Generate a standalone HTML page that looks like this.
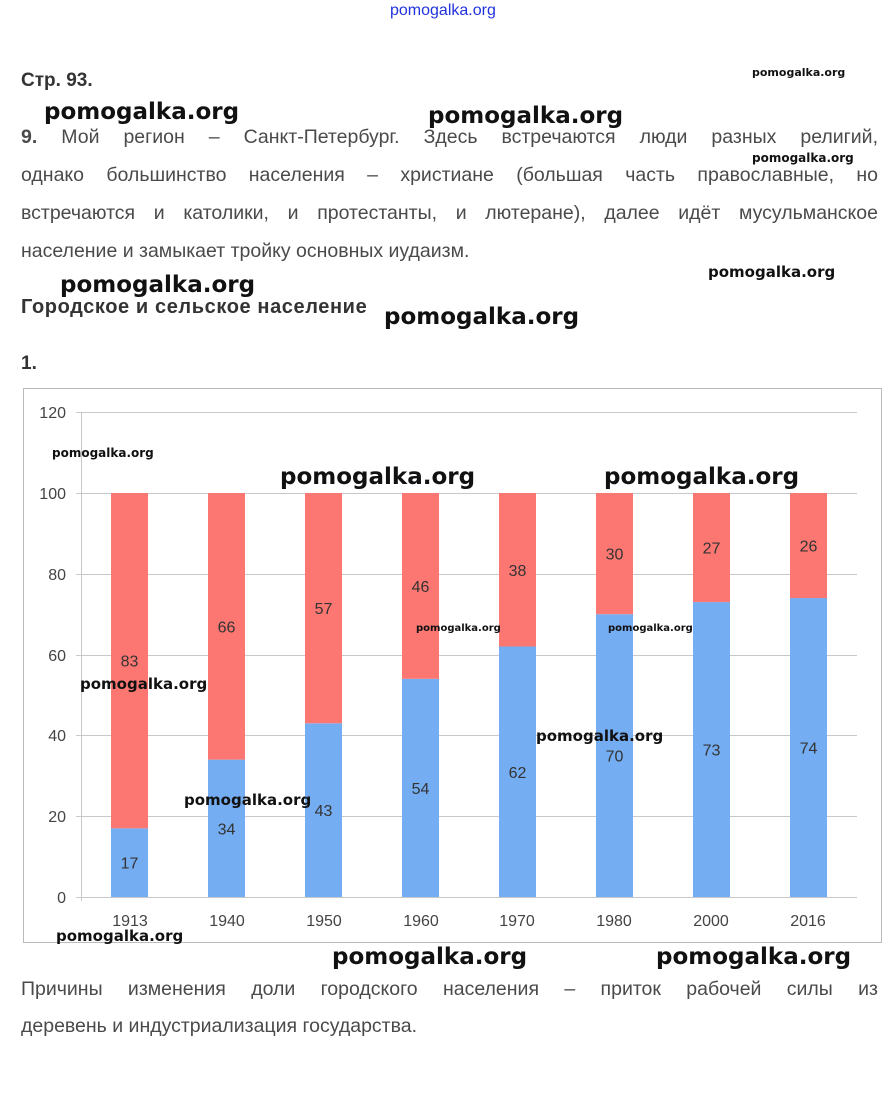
<!DOCTYPE html>
<html><head><meta charset="utf-8"><style>
body{margin:0;width:895px;height:1112px;background:#fff;position:relative;overflow:hidden;font-family:"Liberation Sans","DejaVu Sans",sans-serif;color:#444}
.a{position:absolute;white-space:nowrap}
.p{font-size:19.5px;left:21px;width:857px;text-align:justify;text-align-last:justify;color:#4a4a4a}
.w{position:absolute;font-family:"DejaVu Sans","Liberation Sans",sans-serif;font-weight:bold;color:#111;white-space:nowrap}
.big{font-size:23px}.sm{font-size:12px;font-weight:600}
</style></head><body>
<div class="a" style="left:390px;top:2px;font-size:16px;color:#2233dd">pomogalka.org</div>
<div class="a" style="left:21px;top:70px;font-size:19px;font-weight:bold;color:#333">Стр. 93.</div>
<div class="a p" style="top:126px"><b>9.</b> Мой регион – Санкт-Петербург. Здесь встречаются люди разных религий,</div>
<div class="a p" style="top:164px">однако большинство населения – христиане (большая часть православные, но</div>
<div class="a p" style="top:202px">встречаются и католики, и протестанты, и лютеране), далее идёт мусульманское</div>
<div class="a" style="left:21px;top:240px;font-size:19.5px;color:#4a4a4a">население и замыкает тройку основных иудаизм.</div>
<div class="a" style="left:21px;top:296px;font-size:20px;font-weight:bold;color:#333;letter-spacing:0.6px">Городское и сельское население</div>
<div class="a" style="left:21px;top:353px;font-size:19px;font-weight:bold;color:#333">1.</div>
<div class="a p" style="top:978px">Причины изменения доли городского населения – приток рабочей силы из</div>
<div class="a" style="left:21px;top:1015px;font-size:19.5px;color:#4a4a4a">деревень и индустриализация государства.</div>

<svg class="a" style="left:0;top:0" width="895" height="1112">
<rect x="23.5" y="388.5" width="858" height="554" fill="none" stroke="#bbb"/>
<g stroke="#c8c8c8" stroke-width="1">
<line x1="76" x2="857" y1="412.5" y2="412.5"/>
<line x1="76" x2="857" y1="493.5" y2="493.5"/>
<line x1="76" x2="857" y1="574.5" y2="574.5"/>
<line x1="76" x2="857" y1="655.5" y2="655.5"/>
<line x1="76" x2="857" y1="735.5" y2="735.5"/>
<line x1="76" x2="857" y1="816.5" y2="816.5"/>
<line x1="76" x2="857" y1="897.5" y2="897.5"/>
<line x1="81.5" x2="81.5" y1="412" y2="901"/>
</g>
<g font-family="Liberation Sans,sans-serif" font-size="16" fill="#444" text-anchor="end">
<text x="66" y="418">120</text><text x="66" y="499">100</text><text x="66" y="580">80</text>
<text x="66" y="661">60</text><text x="66" y="741">40</text><text x="66" y="822">20</text><text x="66" y="903">0</text>
</g>
<g id="bars"></g>
<g font-family="Liberation Sans,sans-serif" font-size="16" fill="#444" text-anchor="middle">
<text x="130" y="926">1913</text><text x="227" y="926">1940</text><text x="324" y="926">1950</text><text x="421" y="926">1960</text>
<text x="517" y="926">1970</text><text x="614" y="926">1980</text><text x="711" y="926">2000</text><text x="808" y="926">2016</text>
</g>
</svg>
<script>
var d=[[17,83],[34,66],[43,57],[54,46],[62,38],[70,30],[73,27],[74,26]],s="";
d.forEach(function(v,i){var x=111+i*97,z=897,k=4.04,hb=v[0]*k,hr=v[1]*k;
s+='<rect x="'+x+'" y="'+(z-hb)+'" width="37" height="'+hb+'" fill="#75adf2"/>';
s+='<rect x="'+x+'" y="'+(z-hb-hr)+'" width="37" height="'+hr+'" fill="#fc7772"/>';
s+='<text x="'+(x+18.5)+'" y="'+(z-hb/2+6)+'" text-anchor="middle" font-family="Liberation Sans,sans-serif" font-size="16" fill="#333">'+v[0]+'</text>';
s+='<text x="'+(x+18.5)+'" y="'+(z-hb-hr/2+6)+'" text-anchor="middle" font-family="Liberation Sans,sans-serif" font-size="16" fill="#333">'+v[1]+'</text>';});
document.getElementById('bars').innerHTML=s;
</script>
<div class="w big" style="left:44px;top:99px">pomogalka.org</div>
<div class="w big" style="left:428px;top:103px">pomogalka.org</div>
<div class="w sm" style="left:752px;top:66px;font-size:11px">pomogalka.org</div>
<div class="w sm" style="left:752px;top:151px">pomogalka.org</div>
<div class="w big" style="left:60px;top:272px">pomogalka.org</div>
<div class="w" style="left:708px;top:263px;font-size:15px">pomogalka.org</div>
<div class="w big" style="left:384px;top:304px">pomogalka.org</div>
<div class="w sm" style="left:52px;top:446px;font-size:12px">pomogalka.org</div>
<div class="w big" style="left:280px;top:464px">pomogalka.org</div>
<div class="w big" style="left:604px;top:464px">pomogalka.org</div>
<div class="w sm" style="left:416px;top:623px;font-size:10px">pomogalka.org</div>
<div class="w sm" style="left:608px;top:623px;font-size:10px">pomogalka.org</div>
<div class="w" style="left:80px;top:675px;font-size:15px">pomogalka.org</div>
<div class="w" style="left:536px;top:727px;font-size:15px">pomogalka.org</div>
<div class="w" style="left:184px;top:791px;font-size:15px">pomogalka.org</div>
<div class="w" style="left:56px;top:927px;font-size:15px">pomogalka.org</div>
<div class="w big" style="left:332px;top:944px">pomogalka.org</div>
<div class="w big" style="left:656px;top:944px">pomogalka.org</div>
</body></html>
